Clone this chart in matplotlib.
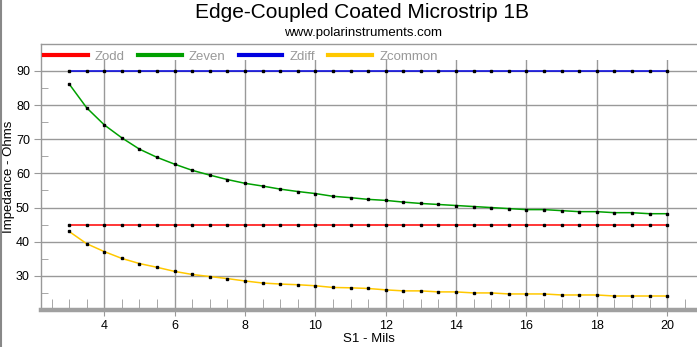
import numpy as np
import matplotlib.pyplot as plt
from matplotlib.lines import Line2D

plt.rcParams['font.family'] = ['Liberation Sans', 'DejaVu Sans']

# datos
s1 = [3, 3.5, 4, 4.5, 5, 5.5, 6, 6.5, 7, 7.5, 8, 8.5, 9, 9.5, 10, 10.5, 11,
      11.5, 12, 12.5, 13, 13.5, 14, 14.5, 15, 15.5, 16, 16.5, 17, 17.5, 18,
      18.5, 19, 19.5, 20]
zodd = [45.0] * len(s1)
zdiff = [90.0] * len(s1)
zeven = [86.2, 79.2, 74.2, 70.4, 67.1, 64.7, 62.7, 60.9, 59.5, 58.2, 57.1,
         56.3, 55.4, 54.7, 54.1, 53.3, 52.9, 52.4, 52.1, 51.6, 51.2, 50.9,
         50.6, 50.3, 50.0, 49.7, 49.4, 49.4, 49.1, 48.8, 48.8, 48.5, 48.5,
         48.2, 48.2]
zcommon = [43.0, 39.4, 37.1, 35.1, 33.6, 32.5, 31.3, 30.4, 29.8, 29.2, 28.5,
           27.9, 27.6, 27.4, 27.1, 26.6, 26.5, 26.3, 25.9, 25.6, 25.6, 25.3,
           25.3, 25.0, 25.0, 24.7, 24.7, 24.7, 24.4, 24.4, 24.4, 24.1, 24.1,
           24.1, 24.1]

series = [("Zodd", zodd, "#ff0000"), ("Zeven", zeven, "#00a000"),
          ("Zdiff", zdiff, "#0000e0"), ("Zcommon", zcommon, "#ffc800")]

fig = plt.figure(figsize=(6.97, 3.47), dpi=100)
ax = fig.add_axes([41/697, 37/347, 1 - 41/697, 266/347])

for name, vals, col in series:
    ax.plot(s1, vals, color=col, lw=1.1, marker='s', ms=1.7,
            mfc='black', mec='black', label=name, zorder=3)

ax.set_xlim(2.2, 20.85)
ax.set_ylim(20.0, 97.9)
# franja blanca de la leyenda (tapa la rejilla arriba)
ax.axhspan(93.2, 97.9, color='white', lw=0, zorder=2)
ax.set_xticks(np.arange(4, 21, 2))
ax.set_xticks(np.arange(2.5, 20.6, 0.5), minor=True)
ax.set_yticks(np.arange(30, 91, 10))
ax.set_yticks(np.arange(25, 86, 10), minor=True)
ax.grid(True, which='major', color='#999999', lw=1)
ax.tick_params(axis='both', which='major', labelsize=9, color='#999999')
ax.tick_params(axis='x', which='major', length=4, pad=3)
ax.tick_params(axis='y', which='major', length=5, pad=3)
ax.tick_params(axis='x', which='minor', direction='in', length=8,
               color='#999999')
ax.tick_params(axis='y', which='minor', direction='in', length=5,
               color='#999999')

for sp in ['left', 'top']:
    ax.spines[sp].set_color('#999999')
    ax.spines[sp].set_linewidth(1)
ax.spines['right'].set_visible(False)
ax.spines['bottom'].set_color('#a0a0a0')
ax.spines['bottom'].set_linewidth(3.2)

ax.set_xlabel("S1 - Mils", fontsize=9.5, labelpad=1)
ax.set_ylabel("Impedance - Ohms", fontsize=9.5)
ax.yaxis.set_label_coords(-0.04, 0.5)

leg_handles = [Line2D([], [], color=col, lw=3) for _, _, col in series]
leg = ax.legend(leg_handles, [n for n, _, _ in series], ncol=4,
                loc='upper left', bbox_to_anchor=(44/697, 1 - 50.5/347),
                bbox_transform=fig.transFigure, frameon=False,
                fontsize=9.5, handlelength=3.3, handletextpad=0.55,
                columnspacing=1.0, borderpad=0, borderaxespad=0)
for t in leg.get_texts():
    t.set_color('#999999')

fig.text(362/697, 1 - 13/347, "Edge-Coupled Coated Microstrip 1B",
         fontsize=15, ha='center', va='center')
fig.text(363/697, 1 - 33/347, "www.polarinstruments.com",
         fontsize=9.5, ha='center', va='center')

fig.add_artist(Line2D([1/697, 1/697], [0, 1], color='#888888', lw=1.5,
                      transform=fig.transFigure))

fig.savefig("out.png", dpi=100)
